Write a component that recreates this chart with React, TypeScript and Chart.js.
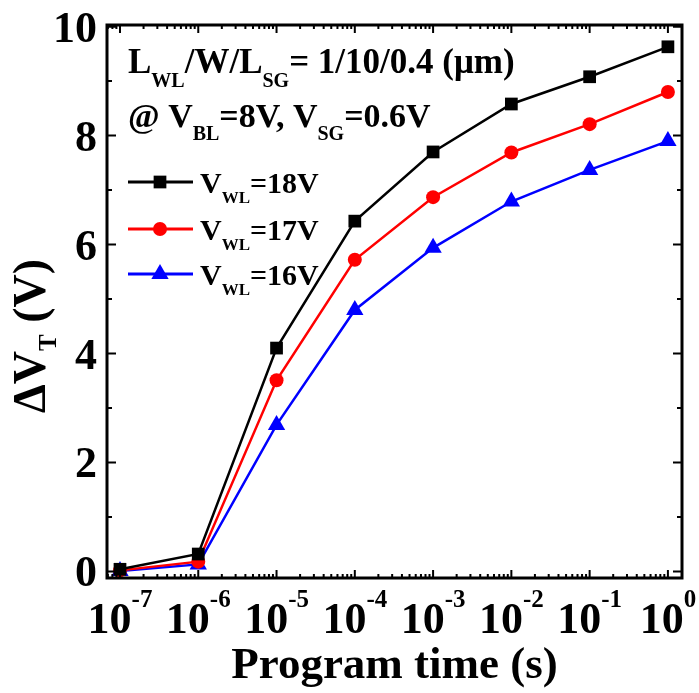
import React, { useEffect, useRef } from "react";
import { Chart, registerables } from "chart.js";

Chart.register(...registerables);

// ---- data ----
const programTimes = [1e-7, 1e-6, 1e-5, 1e-4, 1e-3, 1e-2, 1e-1, 1];
const dvtWL18 = [0.04, 0.32, 4.1, 6.43, 7.7, 8.58, 9.08, 9.63];
const dvtWL17 = [0.02, 0.18, 3.51, 5.72, 6.87, 7.69, 8.21, 8.8];
const dvtWL16 = [0.01, 0.13, 2.69, 4.8, 5.94, 6.79, 7.37, 7.9];
const seriesVoltages = ["18V", "17V", "16V"];
const xTickExponents = [-7, -6, -5, -4, -3, -2, -1, 0];
const yTickValues = [0, 2, 4, 6, 8, 10];
const yMinorTickValues = [1, 3, 5, 7, 9];

const COLORS = ["#000000", "#ff0000", "#0000ff"];
const MARKERS = ["rect", "circle", "triangle"];
const MARKER_R = [9, 7, 10];
const FONT = "'Liberation Serif', 'Times New Roman', serif";

type Run = { text: string; size: number; dy: number };

function runsWidth(ctx: CanvasRenderingContext2D, runs: Run[]) {
  let w = 0;
  for (const r of runs) {
    ctx.font = `bold ${r.size}px ${FONT}`;
    w += ctx.measureText(r.text).width;
  }
  return w;
}

function drawRuns(ctx: CanvasRenderingContext2D, x: number, y: number, runs: Run[], align: "left" | "center" | "right" = "left") {
  const w = runsWidth(ctx, runs);
  let cx = align === "left" ? x : align === "center" ? x - w / 2 : x - w;
  ctx.textAlign = "left";
  ctx.textBaseline = "alphabetic";
  for (const r of runs) {
    ctx.font = `bold ${r.size}px ${FONT}`;
    ctx.fillText(r.text, cx, y + r.dy);
    cx += ctx.measureText(r.text).width;
  }
}

function drawMarker(ctx: CanvasRenderingContext2D, style: string, x: number, y: number, r: number, color: string) {
  ctx.save();
  ctx.fillStyle = color;
  ctx.beginPath();
  if (style === "rect") {
    const s = Math.SQRT1_2 * r;
    ctx.rect(x - s, y - s, 2 * s, 2 * s);
  } else if (style === "circle") {
    ctx.arc(x, y, r, 0, Math.PI * 2);
  } else {
    const a = (2 * Math.PI) / 3;
    ctx.moveTo(x, y - r);
    ctx.lineTo(x + Math.sin(a) * r, y - Math.cos(a) * r);
    ctx.lineTo(x + Math.sin(2 * a) * r, y - Math.cos(2 * a) * r);
    ctx.closePath();
  }
  ctx.fill();
  ctx.restore();
}

const decorPlugin = {
  id: "decor",
  afterDraw(chart: any) {
    const ctx: CanvasRenderingContext2D = chart.ctx;
    const { left, right, top, bottom } = chart.chartArea;
    const xs = chart.scales.x;
    const ys = chart.scales.y;
    ctx.save();
    ctx.strokeStyle = "#000";
    ctx.fillStyle = "#000";

    // ticks
    ctx.lineWidth = 2;
    ctx.beginPath();
    const yTick = (v: number, len: number) => {
      const py = ys.getPixelForValue(v);
      ctx.moveTo(left, py); ctx.lineTo(left + len, py);
      ctx.moveTo(right, py); ctx.lineTo(right - len, py);
    };
    yTickValues.forEach((v) => yTick(v, 9));
    yMinorTickValues.forEach((v) => yTick(v, 5));
    const xTick = (v: number, len: number) => {
      const px = xs.getPixelForValue(v);
      if (px < left - 0.5 || px > right + 0.5) return;
      ctx.moveTo(px, bottom); ctx.lineTo(px, bottom - len);
      ctx.moveTo(px, top); ctx.lineTo(px, top + len);
    };
    for (let d = -8; d <= 0; d++) {
      xTick(Math.pow(10, d), 8);
      for (let k = 2; k <= 9; k++) xTick(k * Math.pow(10, d), 4);
    }
    ctx.stroke();

    // frame
    ctx.lineWidth = 3;
    ctx.strokeRect(left, top, right - left, bottom - top);

    // y tick labels
    yTickValues.forEach((v) => {
      const py = ys.getPixelForValue(v);
      drawRuns(ctx, 97, py + 15, [{ text: String(v), size: 44, dy: 0 }], "right");
    });

    // x tick labels
    xTickExponents.forEach((e) => {
      const px = xs.getPixelForValue(Math.pow(10, e));
      drawRuns(ctx, px, 633, [
        { text: "10", size: 44, dy: 0 },
        { text: String(e), size: 25, dy: -26 },
      ], "center");
    });

    // x title
    drawRuns(ctx, (left + right) / 2, 678, [{ text: "Program time (s)", size: 45, dy: 0 }], "center");

    // y title
    ctx.save();
    ctx.translate(45, 413);
    ctx.rotate(-Math.PI / 2);
    drawRuns(ctx, 0, 0, [
      { text: "\u0394V", size: 46, dy: 0 },
      { text: "T", size: 25, dy: 11 },
      { text: " (V)", size: 46, dy: 0 },
    ], "left");
    ctx.restore();

    // annotation
    drawRuns(ctx, 128, 73, [
      { text: "L", size: 35, dy: 0 },
      { text: "WL", size: 20, dy: 14 },
      { text: "/W/L", size: 35, dy: 0 },
      { text: "SG", size: 20, dy: 14 },
      { text: "= 1/10/0.4 (\u03BCm)", size: 35, dy: 0 },
    ]);
    drawRuns(ctx, 128, 127, [
      { text: "@ V", size: 34, dy: 0 },
      { text: "BL", size: 20, dy: 13 },
      { text: "=8V, V", size: 34, dy: 0 },
      { text: "SG", size: 20, dy: 13 },
      { text: "=0.6V", size: 34, dy: 0 },
    ]);

    // legend
    const rows = [182, 229, 274];
    rows.forEach((ry, i) => {
      ctx.save();
      ctx.strokeStyle = COLORS[i];
      ctx.lineWidth = 3;
      ctx.beginPath();
      ctx.moveTo(128, ry);
      ctx.lineTo(193, ry);
      ctx.stroke();
      ctx.restore();
      drawMarker(ctx, MARKERS[i], 160, ry, MARKER_R[i], COLORS[i]);
      ctx.fillStyle = "#000";
      drawRuns(ctx, 200, ry + 11, [
        { text: "V", size: 30, dy: 0 },
        { text: "WL", size: 17, dy: 10 },
        { text: "=" + seriesVoltages[i], size: 30, dy: 0 },
      ]);
    });
    ctx.restore();
  },
};

export default function App() {
  const ref = useRef<HTMLCanvasElement | null>(null);
  useEffect(() => {
    if (!ref.current) return;
    const series = [dvtWL18, dvtWL17, dvtWL16];
    const chart = new Chart(ref.current, {
      type: "line",
      data: {
        datasets: series.map((vals, i) => ({
          label: "VWL=" + seriesVoltages[i],
          data: programTimes.map((t, j) => ({ x: t, y: vals[j] })),
          borderColor: COLORS[i],
          backgroundColor: COLORS[i],
          borderWidth: 2.5,
          pointStyle: MARKERS[i] as any,
          pointRadius: MARKER_R[i],
          pointBorderWidth: 0,
          tension: 0,
          clip: false as any,
        })),
      },
      options: {
        responsive: false,
        animation: false,
        layout: { padding: { top: 25, right: 17, left: 0, bottom: 0 } },
        plugins: { legend: { display: false }, tooltip: { enabled: false } },
        scales: {
          x: {
            type: "logarithmic",
            min: Math.pow(10, -7.166),
            max: Math.pow(10, 0.18),
            ticks: { display: false },
            grid: { display: false },
            border: { display: false },
            afterFit: (s: any) => { s.height = 115; },
          },
          y: {
            type: "linear",
            min: -0.12,
            max: 10.03,
            ticks: { display: false },
            grid: { display: false },
            border: { display: false },
            afterFit: (s: any) => { s.width = 107; },
          },
        },
      },
      plugins: [decorPlugin],
    });
    return () => chart.destroy();
  }, []);
  return (
    <div style={{ position: "absolute", left: 0, top: 0, width: 699, height: 693, background: "#fff" }}>
      <canvas ref={ref} width={699} height={693} style={{ display: "block" }} />
    </div>
  );
}
